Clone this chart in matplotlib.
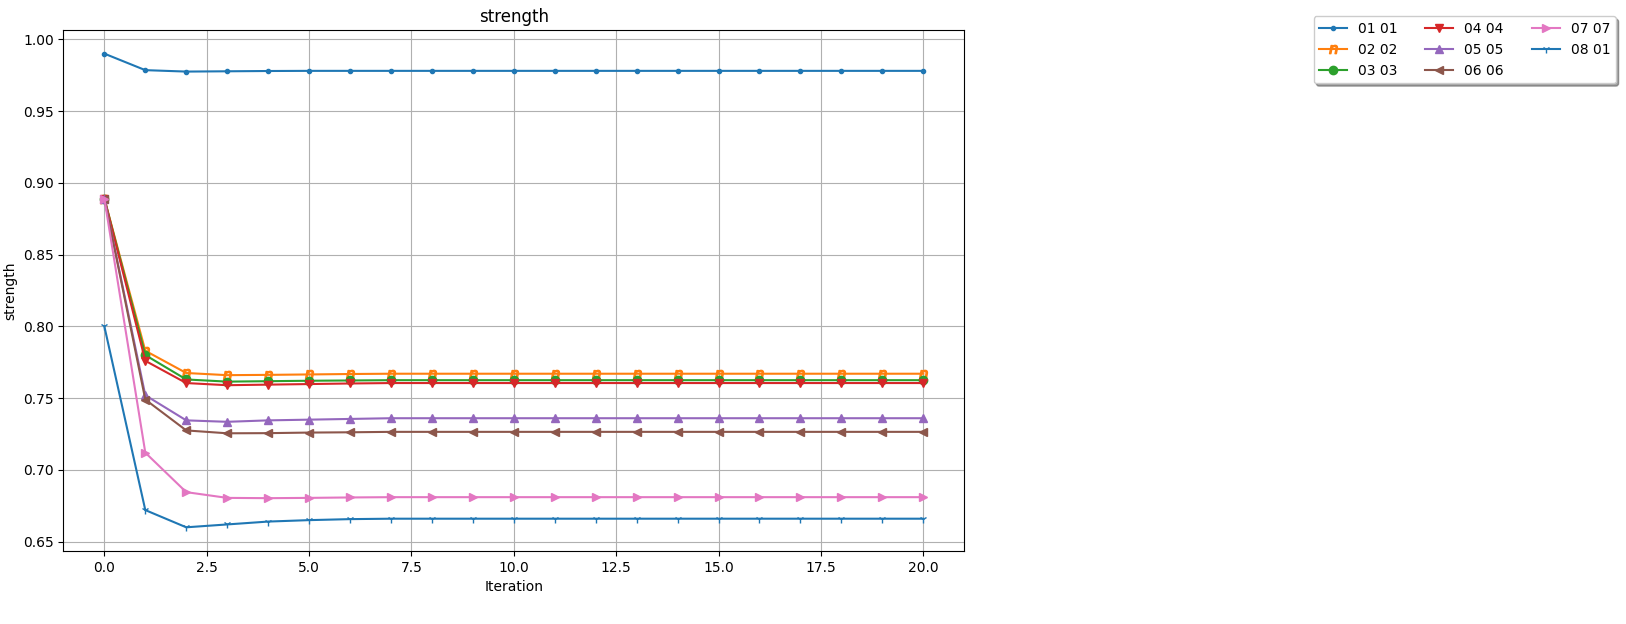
import matplotlib
matplotlib.use("Agg")
import matplotlib.pyplot as plt
import numpy as np

iterations = np.arange(21)
labels = ["01 01", "02 02", "03 03", "04 04", "05 05", "06 06", "07 07", "08 01"]
markers = [".", "$n$", "o", "v", "^", "<", ">", "1"]
colors = ["#1f77b4", "#ff7f0e", "#2ca02c", "#d62728", "#9467bd", "#8c564b",
          "#e377c2", "#1f77b4"]

s01 = [0.990, 0.9785, 0.9775, 0.9777, 0.9779, 0.978] + [0.978] * 15
s02 = [0.889, 0.783, 0.7675, 0.766, 0.7662, 0.7665, 0.7668] + [0.767] * 14
s03 = [0.889, 0.780, 0.763, 0.7615, 0.7618, 0.7621, 0.7623] + [0.7625] * 14
s04 = [0.889, 0.776, 0.7605, 0.759, 0.7594, 0.7598, 0.7602] + [0.7605] * 14
s05 = [0.889, 0.752, 0.7345, 0.7335, 0.7345, 0.735, 0.7355] + [0.736] * 14
s06 = [0.889, 0.749, 0.7275, 0.7255, 0.7256, 0.726, 0.7262] + [0.7265] * 14
s07 = [0.889, 0.712, 0.6845, 0.6805, 0.6803, 0.6805, 0.6808] + [0.681] * 14
s08 = [0.800, 0.672, 0.660, 0.662, 0.664, 0.665, 0.6657] + [0.666] * 14
series = [s01, s02, s03, s04, s05, s06, s07, s08]

fig = plt.figure(figsize=(16.26, 6.24), dpi=100)
ax = fig.add_axes([0.039, 0.117, 0.554, 0.835])
for vals, lab, m, c in zip(series, labels, markers, colors):
    ax.plot(iterations, vals, marker=m, color=c, label=lab)
ax.set_title("strength")
ax.set_xlabel("Iteration")
ax.set_ylabel("strength")
ax.grid(True)
fig.legend(loc="upper right", bbox_to_anchor=(0.998, 0.985), ncol=3,
           fancybox=True, shadow=True)
fig.savefig("out.png")
